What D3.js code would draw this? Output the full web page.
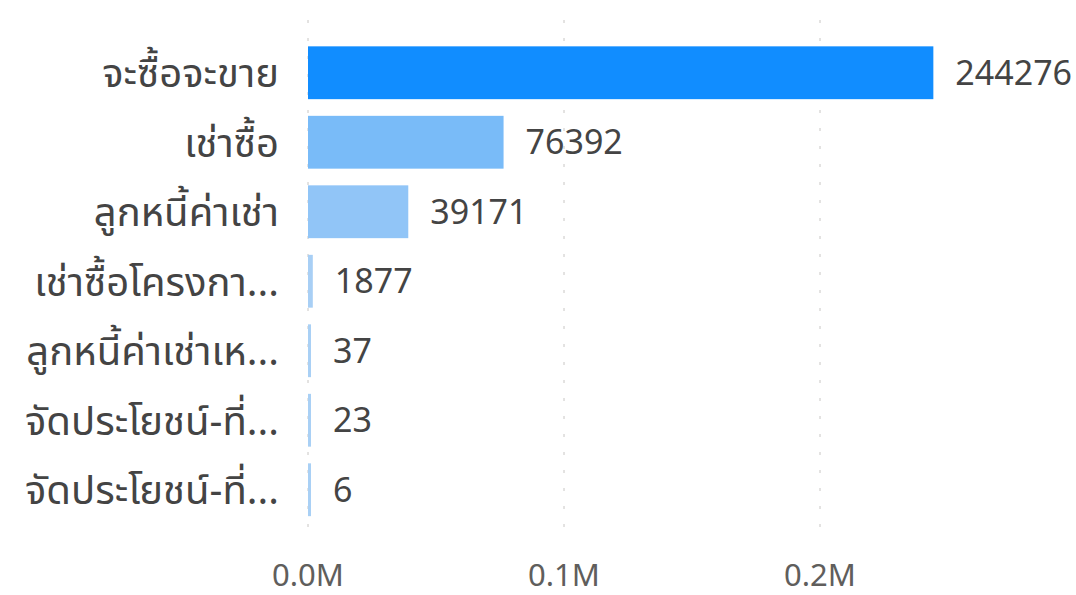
<!DOCTYPE html>
<html>
<head>
<meta charset="utf-8">
<script src="https://cdn.jsdelivr.net/npm/d3@7"></script>
<style>
  html, body { margin: 0; padding: 0; background: #ffffff; }
  svg text { font-family: "Segoe UI", "Noto Sans", "Noto Sans Thai", "DejaVu Sans", sans-serif; }
</style>
</head>
<body>
<svg id="chart" width="1076" height="595"></svg>
<script>
// Categories as shown (long names are truncated in the source)
const categories = [
    'จะซื้อจะขาย',
    'เช่าซื้อ',
    'ลูกหนี้ค่าเช่า',
    'เช่าซื้อโครงกา...',
    'ลูกหนี้ค่าเช่าเห...',
    'จัดประโยชน์-ที่...',
    'จัดประโยชน์-ที่...'
];
const values = [244276, 76392, 39171, 1877, 37, 23, 6];
const xTicks = [0, 100000, 200000];

const svg = d3.select('#chart');
const margin = { top: 38, left: 308 };

const rows = categories.map((c, i) => ({ key: i, label: c, value: values[i] }));

// x scale: 256px per 0.1M
const x = d3.scaleLinear()
    .domain([0, 300000])
    .range([margin.left, margin.left + 768]);

const y = d3.scaleBand()
    .domain(rows.map(d => d.key))
    .range([margin.top, margin.top + 486.5])
    .paddingInner(0.24)
    .paddingOuter(0.12);

// Colour by value, light blue -> strong blue
const color = d3.scaleLinear()
    .domain([d3.min(values), d3.max(values)])
    .range(['#a9d0f5', '#118dff'])
    .interpolate(d3.interpolateRgb);

const barWidth = d => Math.max(x(d.value) - x(0), 3);

// Dotted gridlines
svg.append('g')
    .selectAll('line')
    .data(xTicks)
    .enter()
    .append('line')
    .attr('x1', d => x(d))
    .attr('x2', d => x(d))
    .attr('y1', 20)
    .attr('y2', 532)
    .attr('stroke', '#c8c6c4')
    .attr('stroke-width', 1)
    .attr('stroke-dasharray', '3,15');

// Bars
svg.append('g')
    .selectAll('rect')
    .data(rows)
    .enter()
    .append('rect')
    .attr('x', x(0))
    .attr('y', d => y(d.key))
    .attr('width', barWidth)
    .attr('height', y.bandwidth())
    .attr('fill', d => color(d.value));

// Value labels
svg.append('g')
    .selectAll('text')
    .data(rows)
    .enter()
    .append('text')
    .attr('x', d => x(0) + barWidth(d) + 22)
    .attr('y', d => y(d.key) + y.bandwidth() / 2)
    .attr('dy', '0.36em')
    .attr('font-size', '34px')
    .attr('fill', '#444444')
    .text(d => d.value);

// Category labels
svg.append('g')
    .selectAll('text')
    .data(rows)
    .enter()
    .append('text')
    .attr('x', 279)
    .attr('y', d => y(d.key) + y.bandwidth() / 2)
    .attr('dy', '0.36em')
    .attr('text-anchor', 'end')
    .attr('font-size', '40px')
    .attr('fill', '#444444')
    .text(d => d.label);

// X tick labels
svg.append('g')
    .selectAll('text')
    .data(xTicks)
    .enter()
    .append('text')
    .attr('x', d => x(d))
    .attr('y', 575)
    .attr('dy', '0.36em')
    .attr('text-anchor', 'middle')
    .attr('font-size', '31px')
    .attr('fill', '#605e5c')
    .text(d => d3.format('.1f')(d / 1e6) + 'M');
</script>
</body>
</html>
